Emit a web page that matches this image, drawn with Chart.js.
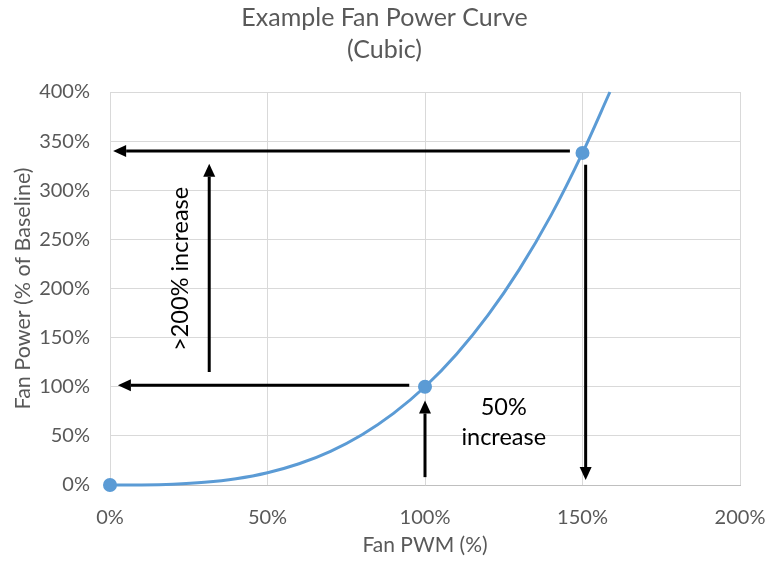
<!DOCTYPE html>
<html>
<head>
<meta charset="utf-8">
<script src="https://cdn.jsdelivr.net/npm/chart.js@4.4.1/dist/chart.umd.min.js"></script>
<style>
  html, body { margin: 0; padding: 0; background: #ffffff; }
  #wrap { width: 769px; height: 564px; }
</style>
</head>
<body>
<div id="wrap"><canvas id="c" width="769" height="564"></canvas></div>
<script>
// Fan PWM (%) and the resulting fan power (% of baseline), cubic law
const pwm   = [0, 10, 20, 30, 40, 50, 60, 70, 80, 90, 100, 110, 120, 130, 140, 150, 158.7];
const power = [0, 0.1, 0.8, 2.7, 6.4, 12.5, 21.6, 34.3, 51.2, 72.9, 100, 133.1, 172.8, 219.7, 274.4, 338, 400];
// PWM settings marked with a dot
const markedPwm = [0, 100, 150];

// Axis ticks
const xTicks = [0, 50, 100, 150, 200];
const yTicks = [0, 50, 100, 150, 200, 250, 300, 350, 400];

// Chart title lines
const titleLines = ['Example Fan Power Curve', '(Cubic)'];

// Callout arrows in data units: [x1, y1, x2, y2] (head at x2, y2)
const arrows = [
  [146, 340, 1, 340],
  [95, 101.5, 2.5, 101.5],
  [31.5, 115, 31.5, 327],
  [100, 8, 100, 86],
  [151, 326, 151, 5]
];
// Callout texts: [text, x, y, rotation]
const notes = [
  ['>200% increase', 22.5, 220, -90],
  ['50%', 125, 79, 0],
  ['increase', 125, 48.5, 0]
];

const FONT = 'Lato, "Open Sans", sans-serif';
const GREY = '#595959';

// Title centred on the whole canvas
const titlePlugin = {
  id: 'centredTitle',
  afterDraw(chart) {
    const { ctx, width } = chart;
    ctx.save();
    ctx.fillStyle = GREY;
    ctx.font = '25px ' + FONT;
    ctx.textAlign = 'center';
    ctx.textBaseline = 'middle';
    titleLines.forEach((t, i) => ctx.fillText(t, width / 2, 18 + i * 32));
    ctx.restore();
  }
};

const calloutPlugin = {
  id: 'callouts',
  afterDatasetsDraw(chart) {
    const { ctx, scales: { x, y } } = chart;
    ctx.save();
    ctx.strokeStyle = '#000';
    ctx.fillStyle = '#000';
    ctx.lineWidth = 3;
    arrows.forEach(([ax, ay, bx, by]) => {
      const x1 = x.getPixelForValue(ax), y1 = y.getPixelForValue(ay);
      const x2 = x.getPixelForValue(bx), y2 = y.getPixelForValue(by);
      const ang = Math.atan2(y2 - y1, x2 - x1);
      const hl = 13, hw = 6;
      const bxp = x2 - hl * Math.cos(ang), byp = y2 - hl * Math.sin(ang);
      ctx.beginPath();
      ctx.moveTo(x1, y1);
      ctx.lineTo(bxp, byp);
      ctx.stroke();
      ctx.beginPath();
      ctx.moveTo(x2, y2);
      ctx.lineTo(bxp + hw * Math.sin(ang), byp - hw * Math.cos(ang));
      ctx.lineTo(bxp - hw * Math.sin(ang), byp + hw * Math.cos(ang));
      ctx.closePath();
      ctx.fill();
    });
    ctx.font = '23.5px ' + FONT;
    ctx.textAlign = 'center';
    ctx.textBaseline = 'middle';
    notes.forEach(([t, tx, ty, rot]) => {
      ctx.save();
      ctx.translate(x.getPixelForValue(tx), y.getPixelForValue(ty));
      ctx.rotate(rot * Math.PI / 180);
      ctx.fillText(t, 0, 0);
      ctx.restore();
    });
    ctx.restore();
  }
};

new Chart(document.getElementById('c'), {
  type: 'line',
  data: {
    datasets: [{
      data: pwm.map((v, i) => ({ x: v, y: power[i] })),
      borderColor: '#5b9bd5',
      backgroundColor: '#5b9bd5',
      borderWidth: 3,
      cubicInterpolationMode: 'monotone',
      pointRadius: ctx => markedPwm.includes(pwm[ctx.dataIndex]) ? 5.5 : 0,
      pointHoverRadius: 0,
      clip: false
    }]
  },
  options: {
    responsive: false,
    animation: false,
    layout: { padding: { left: 10, right: 29, top: 92, bottom: 2 } },
    plugins: {
      legend: { display: false },
      tooltip: { enabled: false },
      title: { display: false }
    },
    scales: {
      x: {
        type: 'linear',
        min: 0, max: 200,
        afterBuildTicks: s => { s.ticks = xTicks.map(v => ({ value: v })); },
        ticks: { color: GREY, font: { family: FONT, size: 20 }, padding: 21, callback: v => v + '%' },
        grid: { color: '#d9d9d9', drawTicks: false },
        border: { color: '#bfbfbf' },
        title: { display: true, text: 'Fan PWM (%)', color: GREY, font: { family: FONT, size: 21 }, padding: { top: 6 } },
        afterFit: s => { s.height = 77; s.paddingLeft = 0; s.paddingRight = 0; }
      },
      y: {
        type: 'linear',
        min: 0, max: 400,
        afterBuildTicks: s => { s.ticks = yTicks.map(v => ({ value: v })); },
        ticks: { color: GREY, font: { family: FONT, size: 20 }, padding: 20, callback: v => v + '%' },
        grid: { color: '#d9d9d9', drawTicks: false },
        border: { color: '#d9d9d9' },
        title: { display: true, text: 'Fan Power (% of Baseline)', color: GREY, font: { family: FONT, size: 21.5 }, padding: 0 },
        afterFit: s => { s.width = 100; }
      }
    }
  },
  plugins: [calloutPlugin, titlePlugin]
});
</script>
</body>
</html>
